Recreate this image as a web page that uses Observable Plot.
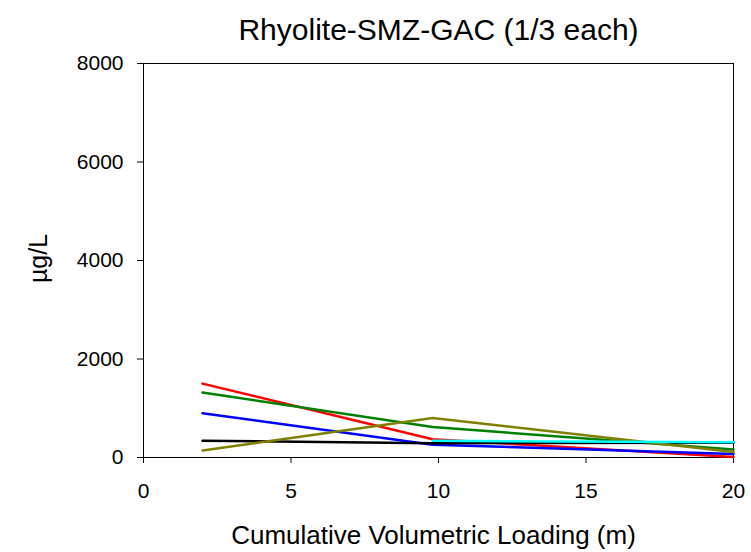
<!DOCTYPE html>
<html><head><meta charset="utf-8">
<script src="https://cdn.jsdelivr.net/npm/d3@7"></script>
<script src="https://cdn.jsdelivr.net/npm/@observablehq/plot@0.6"></script>
<style>body{margin:0;background:#fff;font-family:Arial,"Liberation Sans",sans-serif;}</style>
</head><body><div id="chart"></div>
<script>
const title = "Rhyolite-SMZ-GAC (1/3 each)";
const xLabel = "Cumulative Volumetric Loading (m)";
const yLabel = "µg/L";
const xTicks = [0, 5, 10, 15, 20];
const yTicks = [0, 2000, 4000, 6000, 8000];
const seriesNames = ["red", "green", "blue", "black", "olive", "cyan"];
const seriesColors = ["#ff0000", "#008000", "#0000ff", "#000000", "#999900", "#00ffff"];
const xRed = [2, 9.8, 20];     const yRed = [1500, 370, 10];
const xGreen = [2, 9.8, 20];   const yGreen = [1320, 620, 160];
const xBlue = [2, 9.8, 20];    const yBlue = [900, 260, 70];
const xBlack = [2, 9.8, 20];   const yBlack = [340, 290, 300];
const xOlive = [2, 9.8, 20];   const yOlive = [140, 800, 110];
const xCyan = [9.8, 20];       const yCyan = [340, 310];

const sx = [xRed, xGreen, xBlue, xBlack, xOlive, xCyan];
const sy = [yRed, yGreen, yBlue, yBlack, yOlive, yCyan];
const data = [];
seriesNames.forEach((s, i) => sx[i].forEach((x, j) => data.push({series: s, x, y: sy[i][j]})));

const plot = Plot.plot({
  width: 751, height: 552,
  marginLeft: 143, marginRight: 18, marginTop: 63, marginBottom: 95,
  style: {fontFamily: "Arial, 'Liberation Sans', sans-serif", fontSize: "21px", color: "#000", background: "#fff"},
  x: {domain: [0, 20], ticks: xTicks, tickFormat: "d", tickSize: 6, tickPadding: 20, label: null},
  y: {domain: [0, 8000], ticks: yTicks, tickFormat: "d", tickSize: 6, tickPadding: 14, label: null},
  color: {domain: seriesNames, range: seriesColors},
  marks: [
    Plot.frame({stroke: "#000", strokeWidth: 1}),
    Plot.line(data, {x: "x", y: "y", z: "series", stroke: "series", strokeWidth: 2.5}),
    Plot.text([title], {frameAnchor: "top", lineAnchor: "middle", dy: -33, fontSize: 30, text: d => d}),
    Plot.text([xLabel], {frameAnchor: "bottom", lineAnchor: "middle", dx: -5, dy: 78, fontSize: 26, text: d => d}),
    Plot.text([yLabel], {frameAnchor: "left", textAnchor: "middle", lineAnchor: "middle", dx: -105, dy: -2, rotate: -90, fontSize: 25, text: d => d})
  ]
});
document.getElementById("chart").appendChild(plot);
</script></body></html>
